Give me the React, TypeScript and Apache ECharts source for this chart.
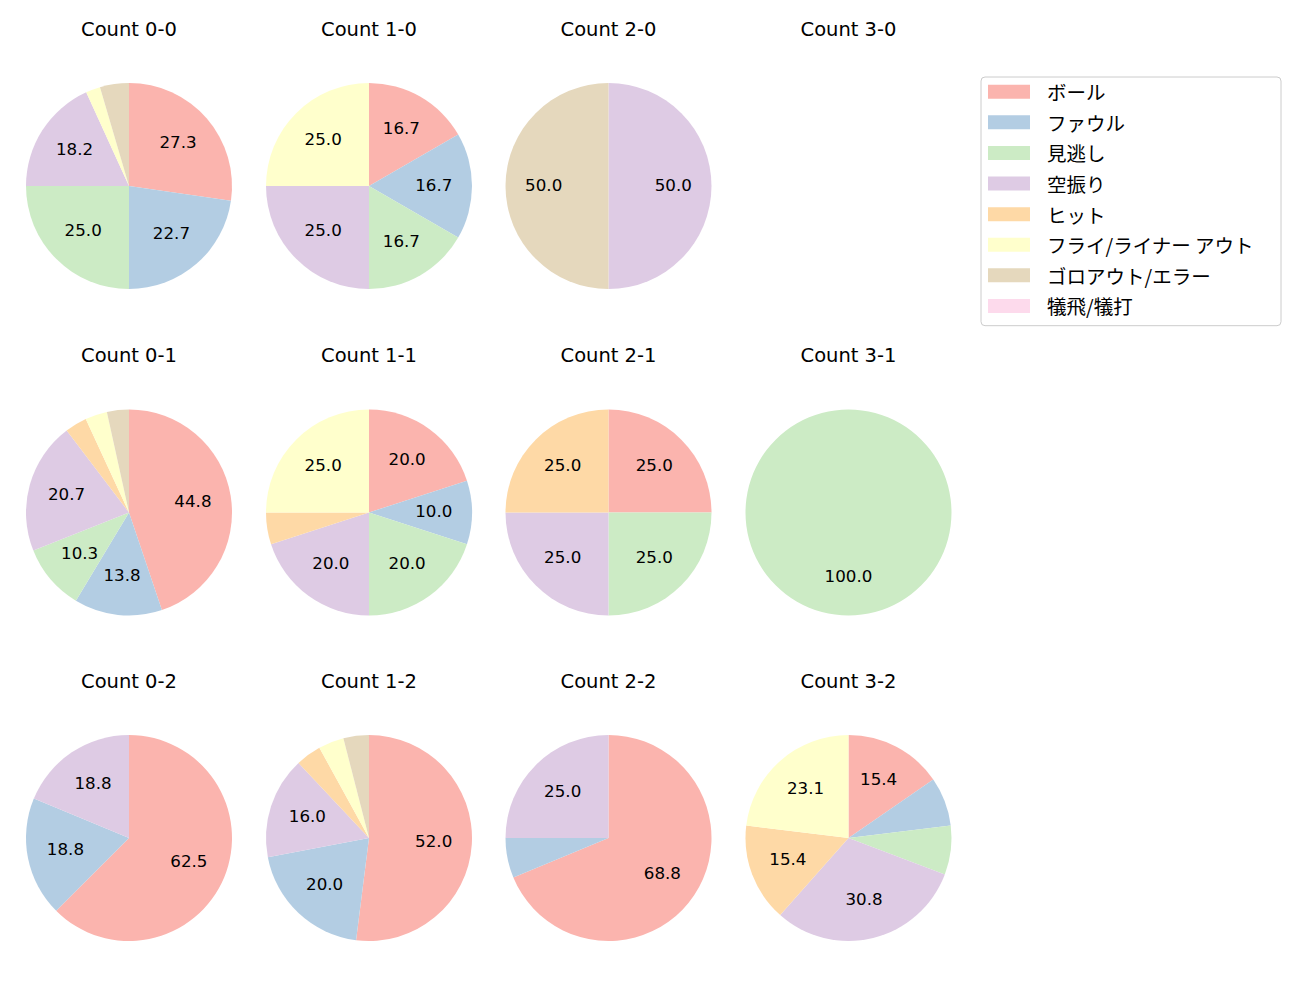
import React, { useEffect, useRef } from "react";
import * as echarts from "echarts";

const categories = ["ボール", "ファウル", "見逃し", "空振り", "ヒット", "フライ/ライナー アウト", "ゴロアウト/エラー", "犠飛/犠打"];
const colors = ["#fbb4ae", "#b3cde3", "#ccebc5", "#decbe4", "#fed9a6", "#ffffcc", "#e5d8bd", "#fddaec"];

const titles = [
  ["Count 0-0", "Count 1-0", "Count 2-0", "Count 3-0"],
  ["Count 0-1", "Count 1-1", "Count 2-1", "Count 3-1"],
  ["Count 0-2", "Count 1-2", "Count 2-2", "Count 3-2"],
];

const c00 = [12, 10, 11, 8, 0, 1, 2, 0];
const c10 = [2, 2, 2, 3, 0, 3, 0, 0];
const c20 = [0, 0, 0, 1, 0, 0, 1, 0];
const c30 = [0, 0, 0, 0, 0, 0, 0, 0];
const c01 = [13, 4, 3, 6, 1, 1, 1, 0];
const c11 = [4, 2, 4, 4, 1, 5, 0, 0];
const c21 = [1, 0, 1, 1, 1, 0, 0, 0];
const c31 = [0, 0, 1, 0, 0, 0, 0, 0];
const c02 = [10, 3, 0, 3, 0, 0, 0, 0];
const c12 = [13, 5, 0, 4, 1, 1, 1, 0];
const c22 = [11, 1, 0, 4, 0, 0, 0, 0];
const c32 = [2, 1, 1, 4, 2, 3, 0, 0];

const grid = [
  [c00, c10, c20, c30],
  [c01, c11, c21, c31],
  [c02, c12, c22, c32],
];

const colX = [129, 369, 608.5, 848.5];
const rowY = [186, 512.5, 838];
const R = 103;
const LATIN = "'DejaVu Sans', 'Noto Sans CJK JP', sans-serif";
const CJK = "'Noto Sans CJK JP', 'DejaVu Sans', sans-serif";

export default function App() {
  const ref = useRef<HTMLDivElement>(null);
  useEffect(() => {
    if (!ref.current) return;
    const chart = echarts.init(ref.current, null, { renderer: "svg" });
    const series: any[] = [];
    const graphicTitles: any[] = [];
    grid.forEach((row, ri) => {
      row.forEach((vals, ci) => {
        graphicTitles.push({
          type: "text",
          x: colX[ci],
          y: rowY[ri] - 157,
          style: {
            text: titles[ri][ci],
            fontSize: 19.5,
            fontFamily: LATIN,
            fill: "#000",
            align: "center",
            verticalAlign: "middle",
          },
        });
        const total = vals.reduce((a, b) => a + b, 0);
        if (total === 0) return;
        const data = categories.map((name, k) => ({
          name,
          value: vals[k],
          itemStyle: { color: colors[k] },
        }));
        series.push({
          type: "pie",
          center: [colX[ci], rowY[ri]],
          radius: [0, R],
          startAngle: 90,
          clockwise: true,
          minAngle: 0,
          avoidLabelOverlap: false,
          silent: true,
          label: { show: false },
          labelLine: { show: false },
          itemStyle: { borderWidth: 0 },
          data,
        });
        series.push({
          type: "pie",
          center: [colX[ci], rowY[ri] - 1.5],
          radius: [R * 0.2, R],
          startAngle: 90,
          clockwise: true,
          avoidLabelOverlap: false,
          silent: true,
          itemStyle: { color: "rgba(0,0,0,0)", borderWidth: 0 },
          labelLine: { show: false },
          label: {
            show: true,
            position: "inside",
            fontSize: 16.7,
            fontFamily: LATIN,
            color: "#000",
            formatter: (p: any) => {
              const pct = (p.value / total) * 100;
              return pct >= 9.5 ? pct.toFixed(1) : "";
            },
          },
          data: categories.map((name, k) => ({ name, value: vals[k] })),
        });
      });
    });
    chart.setOption({
      animation: false,
      backgroundColor: "#fff",
      legend: {
        orient: "vertical",
        left: 981,
        top: 77,
        padding: [5, 27, 10, 7],
        itemWidth: 42,
        itemHeight: 14,
        itemGap: 11.1,
        borderColor: "#cccccc",
        borderWidth: 1,
        borderRadius: 4,
        icon: "rect",
        textStyle: { fontSize: 19.5, fontFamily: CJK, color: "#000", lineHeight: 16, padding: [0, 0, 0, 12] },
        data: categories.map((name, k) => ({ name, itemStyle: { color: colors[k] } })),
        selectedMode: false,
      },
      graphic: graphicTitles,
      series,
    });
    return () => chart.dispose();
  }, []);
  return <div ref={ref} style={{ position: "absolute", left: 0, top: 0, width: 1300, height: 1000 }} />;
}
